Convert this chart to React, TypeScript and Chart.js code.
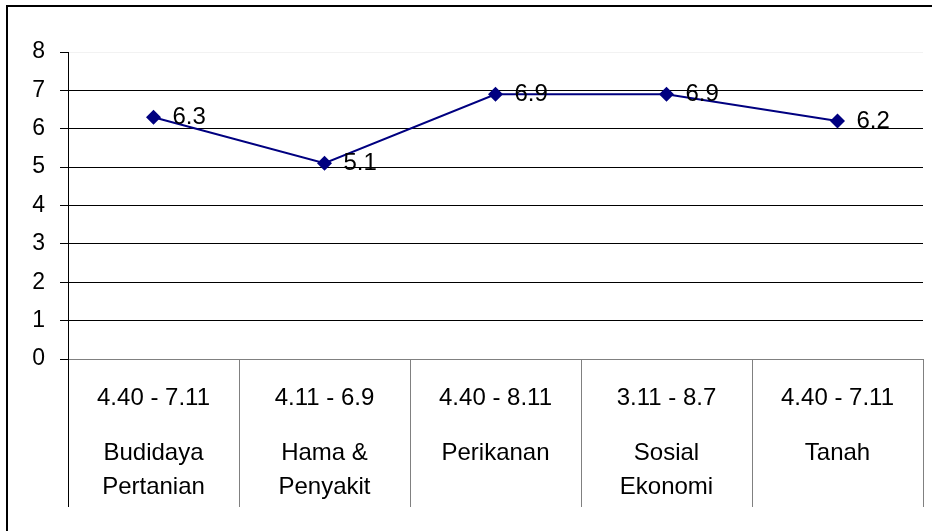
import React, { useEffect, useRef } from "react";
import { Chart, registerables } from "chart.js";

Chart.register(...registerables);

const categories: string[][] = [
  ["Budidaya", "Pertanian"],
  ["Hama &", "Penyakit"],
  ["Perikanan"],
  ["Sosial", "Ekonomi"],
  ["Tanah"],
];
const ranges: string[] = ["4.40 - 7.11", "4.11 - 6.9", "4.40 - 8.11", "3.11 - 8.7", "4.40 - 7.11"];
const values: number[] = [6.3, 5.1, 6.9, 6.9, 6.2];
const yMin = 0;
const yMax = 8;
const yStep = 1;

const FONT = "'Liberation Sans', Arial, sans-serif";

export default function App() {
  const ref = useRef<HTMLCanvasElement | null>(null);

  useEffect(() => {
    const canvas = ref.current;
    if (!canvas) return;

    const decor = {
      id: "decor",
      afterDraw(chart: any) {
        const ctx = chart.ctx as CanvasRenderingContext2D;
        const xs = chart.scales.x;
        const meta = chart.getDatasetMeta(0);
        ctx.save();
        // frame
        ctx.fillStyle = "#000";
        ctx.fillRect(6, 5, 2, chart.height);
        ctx.fillRect(6, 5, chart.width, 2);
        // category labels
        ctx.fillStyle = "#000";
        ctx.textAlign = "center";
        ctx.textBaseline = "middle";
        ctx.font = `24px ${FONT}`;
        categories.forEach((lines, i) => {
          const x = xs.getPixelForValue(i);
          ctx.fillText(ranges[i], x, 398);
          lines.forEach((ln, j) => ctx.fillText(ln, x, 453 + j * 34));
        });
        // data labels
        ctx.textAlign = "left";
        meta.data.forEach((pt: any, i: number) => {
          ctx.fillText(String(values[i]), pt.x + 19, pt.y);
        });
        ctx.restore();
      },
    };

    const chart = new Chart(canvas, {
      type: "line",
      data: {
        labels: categories.map((c) => c.join(" ")),
        datasets: [
          {
            data: values,
            borderColor: "#000080",
            backgroundColor: "#000080",
            borderWidth: 2,
            pointStyle: "rectRot",
            pointRadius: 7.5,
            pointBorderWidth: 0,
            tension: 0,
          },
        ],
      },
      options: {
        animation: false,
        responsive: false,
        devicePixelRatio: 1,
        layout: { padding: { left: 0, top: 52, right: 9, bottom: 24 } },
        plugins: {
          legend: { display: false },
          tooltip: { enabled: false },
        },
        scales: {
          x: {
            offset: true,
            ticks: { display: false },
            grid: {
              offset: true,
              drawOnChartArea: false,
              drawTicks: true,
              tickLength: 148,
              color: (c: any) => (c.index === 0 ? "#000000" : "#808080"),
              tickColor: (c: any) => (c.index === 0 ? "#000000" : "#808080"),
            },
            border: { display: true, color: "#808080", width: 1 },
          },
          y: {
            min: yMin,
            max: yMax,
            ticks: {
              stepSize: yStep,
              color: "#000",
              padding: 15,
              font: { family: FONT, size: 23 },
            },
            grid: {
              color: (c: any) =>
                c.tick && c.tick.value === yMax ? "#f2f2f2" : c.tick && c.tick.value === yMin ? "#808080" : "#000000",
              tickColor: "#000000",
              tickLength: 8,
              lineWidth: 1,
            },
            border: { display: true, color: "#000000", width: 1 },
            afterFit: (s: any) => {
              s.width = 68;
            },
          },
        },
      },
      plugins: [decor],
    });

    return () => chart.destroy();
  }, []);

  return (
    <div style={{ position: "fixed", left: 0, top: 0, width: 932, height: 531, background: "#fff" }}>
      <canvas ref={ref} width={932} height={531} style={{ width: 932, height: 531, display: "block" }} />
    </div>
  );
}
